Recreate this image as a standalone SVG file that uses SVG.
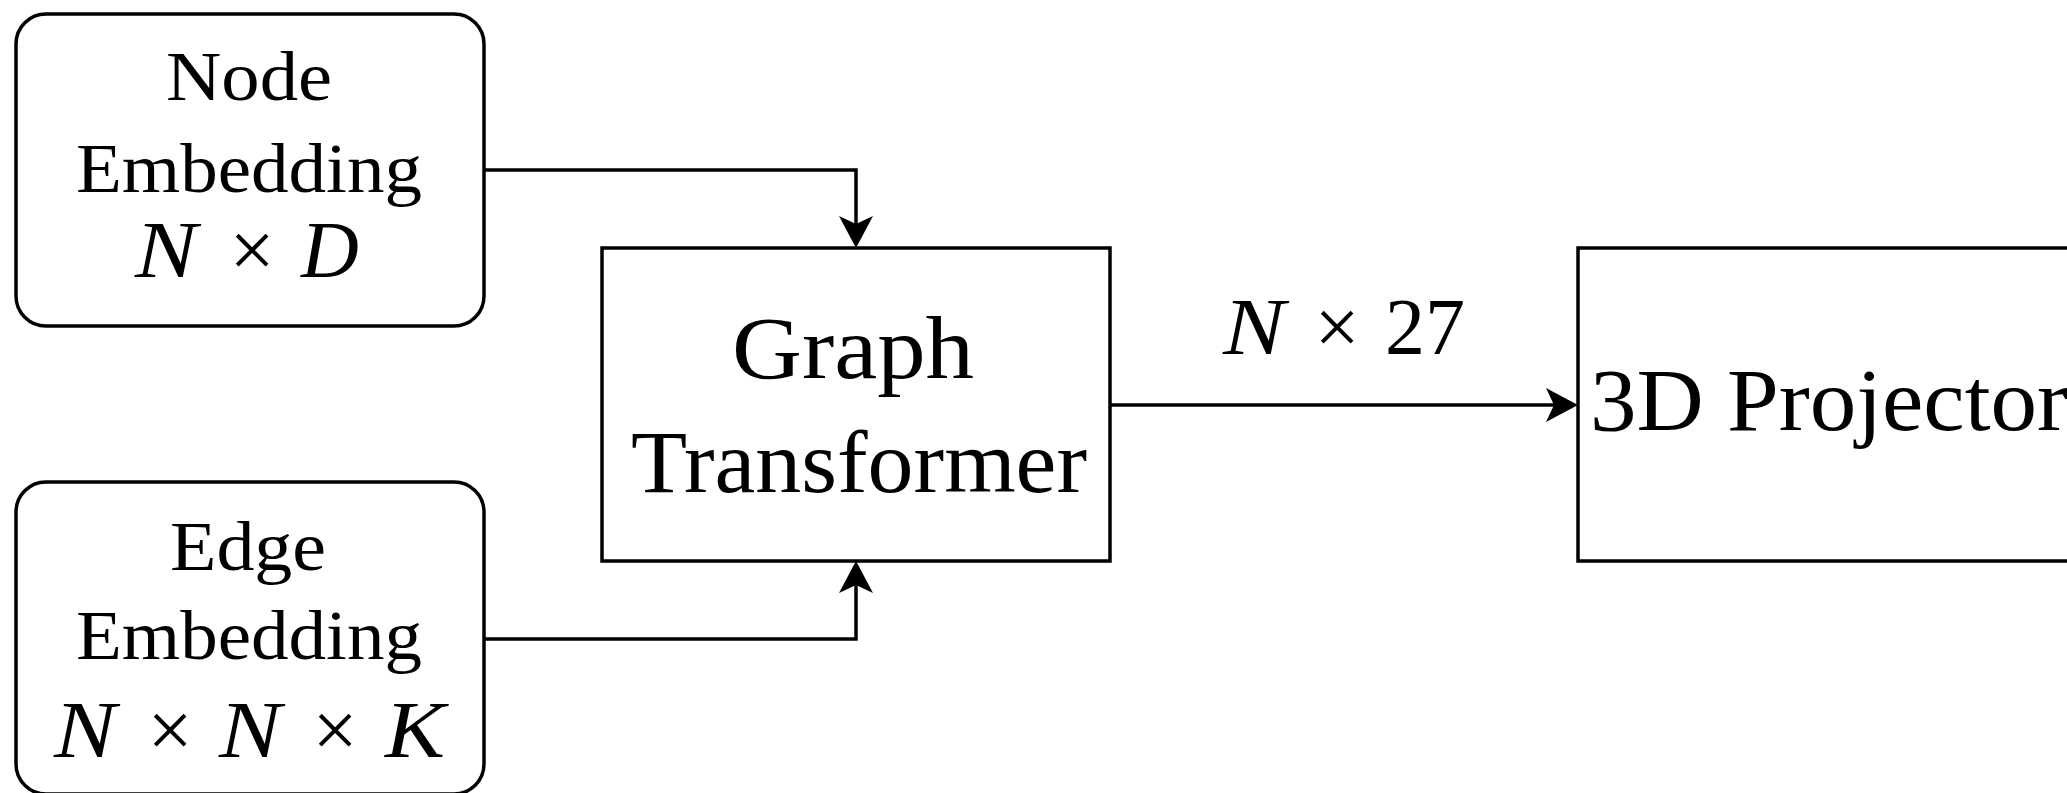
<svg xmlns="http://www.w3.org/2000/svg" width="2067" height="793" viewBox="0 0 2067 793">
<style>
.box{fill:#fff;stroke:#000;stroke-width:3.5}
.edge{fill:none;stroke:#000;stroke-width:3.5}
.t{font-family:"Liberation Serif","Times New Roman",serif;fill:#000;text-anchor:middle}
.m{font-family:"Liberation Serif","Times New Roman",serif;fill:#000;text-anchor:middle;font-size:80px}
.i{font-style:italic}
</style>
<defs>
<marker id="arr" viewBox="0 -17 32 34" refX="8" refY="0" markerWidth="32" markerHeight="34" markerUnits="userSpaceOnUse" orient="auto">
<path d="M32,0 L0,-17 L8,0 L0,17 Z" fill="#000"/>
</marker>
</defs>
<rect width="2067" height="793" fill="#fff"/>
<g id="connectors">
<path class="edge" d="M484,170 H856 V224" marker-end="url(#arr)"/>
<path class="edge" d="M484,639 H856 V585" marker-end="url(#arr)"/>
<path class="edge" d="M1110,405 H1554" marker-end="url(#arr)"/>
</g>
<g id="node-embedding">
<rect class="box" x="16" y="14" width="468" height="312" rx="30" ry="30"/>
<text class="t" x="249" y="100" font-size="70" textLength="166" lengthAdjust="spacingAndGlyphs">Node</text>
<text class="t" x="249" y="192" font-size="70" textLength="346" lengthAdjust="spacingAndGlyphs">Embedding</text>
<text class="m i" x="166" y="277" textLength="62" lengthAdjust="spacingAndGlyphs">N</text>
<text class="m" x="252" y="277">×</text>
<text class="m i" x="330" y="277">D</text>
</g>
<g id="edge-embedding">
<rect class="box" x="16" y="482" width="468" height="312" rx="30" ry="30"/>
<text class="t" x="248" y="570" font-size="70" textLength="156" lengthAdjust="spacingAndGlyphs">Edge</text>
<text class="t" x="249" y="659" font-size="70" textLength="346" lengthAdjust="spacingAndGlyphs">Embedding</text>
<text class="m i" x="85" y="757" textLength="62" lengthAdjust="spacingAndGlyphs">N</text>
<text class="m" x="170" y="757">×</text>
<text class="m i" x="250" y="757" textLength="62" lengthAdjust="spacingAndGlyphs">N</text>
<text class="m" x="335" y="757">×</text>
<text class="m i" x="415" y="757" textLength="60" lengthAdjust="spacingAndGlyphs">K</text>
</g>
<g id="graph-transformer">
<rect class="box" x="602" y="248" width="508" height="313"/>
<text class="t" x="853" y="378" font-size="88" textLength="242" lengthAdjust="spacingAndGlyphs">Graph</text>
<text class="t" x="859" y="492" font-size="88" textLength="456" lengthAdjust="spacingAndGlyphs">Transformer</text>
</g>
<g id="n27-label">
<text class="m i" x="1254" y="354" font-size="78" textLength="62" lengthAdjust="spacingAndGlyphs">N</text>
<text class="m" x="1337" y="354" font-size="78">×</text>
<text class="m" x="1425" y="354" font-size="78">27</text>
</g>
<g id="projector">
<rect class="box" x="1578" y="248" width="520" height="313"/>
<text class="t" x="1590" y="430" font-size="88" style="text-anchor:start" textLength="478" lengthAdjust="spacingAndGlyphs">3D Projector</text>
</g>
</svg>
